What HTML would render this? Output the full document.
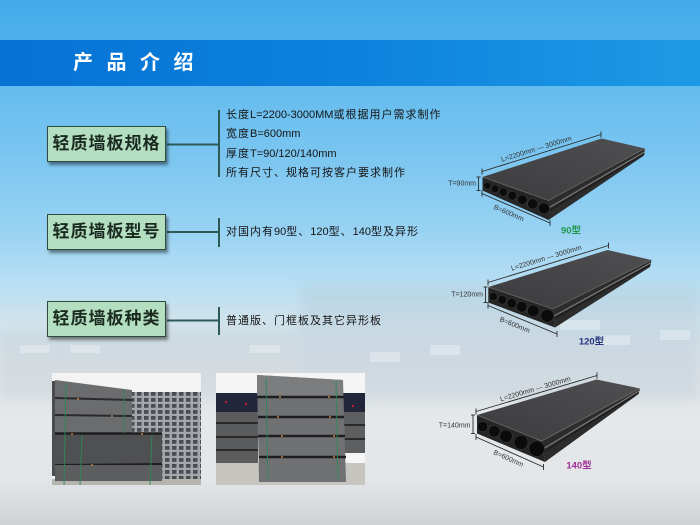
<!DOCTYPE html>
<html><head><meta charset="utf-8">
<style>
html,body{margin:0;padding:0;}
body{width:700px;height:525px;overflow:hidden;position:relative;font-family:"Liberation Sans","Noto Sans CJK SC",sans-serif;
background:linear-gradient(to bottom,#44abe9 0px,#4db1eb 40px,#64bcee 86px,#7cc6f0 160px,#98d2f3 230px,#b6def3 280px,#cfe3ec 320px,#dbe2e7 360px,#e5e8ea 420px,#e3e6e8 480px,#cfd3d6 525px);}
svg{position:absolute;left:0;top:0;}
.banner{position:absolute;left:0;top:40px;width:700px;height:46px;background:linear-gradient(to right,#0672d4,#0d82dd 50%,#1d9ae5);}
.title{position:absolute;left:73px;top:49px;color:#fff;font-size:20px;font-weight:bold;letter-spacing:13.5px;line-height:28px;font-family:"Liberation Sans","Noto Sans CJK SC",sans-serif;white-space:nowrap}
.box{position:absolute;left:47px;width:117px;height:34px;background:#b3dfc0;border:1.5px solid #2f4b3d;box-shadow:2px 3px 3px rgba(0,0,0,0.45);font-size:17px;font-weight:bold;color:#1b2a21;text-align:center;line-height:34px;letter-spacing:1px;white-space:nowrap}
.t{position:absolute;left:226px;font-size:11px;color:#151515;letter-spacing:1px;line-height:14px;white-space:nowrap}
.t span{letter-spacing:0}
</style></head>
<body>
<svg width="700" height="525" viewBox="0 0 700 525">
<defs>
<linearGradient id="topg" x1="0" y1="1" x2="1" y2="0">
<stop offset="0" stop-color="#3c3c3e"/><stop offset="1" stop-color="#4f4f52"/>
</linearGradient>
<pattern id="lat" width="7" height="6" patternUnits="userSpaceOnUse">
<rect width="7" height="6" fill="#a3a7ab"/><rect x="1" y="1" width="4.5" height="3.8" fill="#4a4e52"/>
</pattern>
<clipPath id="c1"><rect x="0" y="0" width="149" height="112"/></clipPath>
<filter id="bl" x="-10%" y="-30%" width="120%" height="160%"><feGaussianBlur stdDeviation="6"/></filter>
</defs>

<!-- faint background buildings -->
<g filter="url(#bl)">
<rect x="300" y="285" width="400" height="115" fill="#a9bccb" opacity="0.25"/>
<rect x="0" y="330" width="300" height="70" fill="#b7c3cb" opacity="0.25"/>
</g>
<g fill="#ffffff" opacity="0.3">
<rect x="20" y="345" width="30" height="8"/><rect x="70" y="345" width="30" height="8"/><rect x="250" y="345" width="30" height="8"/>
<rect x="370" y="352" width="30" height="10"/><rect x="430" y="345" width="30" height="10"/><rect x="560" y="320" width="40" height="10"/>
<rect x="600" y="335" width="30" height="10"/><rect x="660" y="330" width="30" height="10"/>
</g>

<!-- connectors -->
<g stroke="#2d5a55" stroke-width="2" fill="none">
<line x1="167" y1="144.5" x2="219" y2="144.5"/><line x1="219" y1="110" x2="219" y2="177"/>
<line x1="167" y1="232" x2="219" y2="232"/><line x1="219" y1="218" x2="219" y2="247"/>
<line x1="167" y1="320.5" x2="219" y2="320.5"/><line x1="219" y1="307" x2="219" y2="335"/>
</g>

<!-- slab 90 -->
<g>
<polygon points="482.5,177 601.5,138.5 645,148.5 548.5,200.5" fill="url(#topg)"/>
<polygon points="548.5,200.5 645,148.5 644,155.5 548.5,220" fill="#2c2c2c"/>
<line x1="548.5" y1="208" x2="644.5" y2="152" stroke="#7a7a7a" stroke-width="1.2"/>
<line x1="548.5" y1="211" x2="644.5" y2="153.5" stroke="#151515" stroke-width="0.8"/>
<polygon points="482.5,177 548.5,200.5 548.5,220 482.5,190.5" fill="#252525"/>
<polyline points="482.5,177 548.5,200.5 645,148.5" fill="none" stroke="#6a6a6a" stroke-width="0.8"/>
<g fill="#0b0b0b" stroke="#3a3a3a" stroke-width="0.6">
<circle cx="487.3" cy="185.7" r="3.6"/><circle cx="495" cy="188.8" r="3.87"/><circle cx="503.3" cy="192.1" r="4.16"/>
<circle cx="512.3" cy="195.7" r="4.48"/><circle cx="522.3" cy="199.7" r="4.83"/><circle cx="532.7" cy="203.9" r="5.2"/><circle cx="544" cy="208.4" r="5.6"/>
</g>
<g stroke="#2a2a2a" stroke-width="0.9" fill="none">
<line x1="482" y1="171.5" x2="601" y2="134.5"/><line x1="482" y1="168.5" x2="482" y2="174.5"/><line x1="601" y1="131.5" x2="601" y2="137.5"/>
<line x1="478.5" y1="177" x2="478.5" y2="190.5"/><line x1="476.5" y1="177" x2="480.5" y2="177"/><line x1="476.5" y1="190.5" x2="480.5" y2="190.5"/>
<line x1="482" y1="193.5" x2="550" y2="223"/><line x1="482" y1="190.5" x2="482" y2="196.5"/><line x1="550" y1="220" x2="550" y2="226"/>
</g>
<g font-family="Liberation Sans, sans-serif" font-size="7" fill="#333">
<text x="537" y="151" text-anchor="middle" transform="rotate(-17.3 537 151)">L=2200mm — 3000mm</text>
<text x="476" y="185.5" text-anchor="end">T=90mm</text>
<text x="508" y="215" text-anchor="middle" transform="rotate(23.5 508 215)">B=600mm</text>
</g>
<text x="571" y="233.5" text-anchor="middle" font-size="9.5" font-weight="bold" fill="#1e9a50" font-family="Liberation Sans, Noto Sans CJK SC, sans-serif">90型</text>
</g>

<!-- slab 120 -->
<g>
<polygon points="488.3,287 607.5,250 651.5,260 553,309" fill="url(#topg)"/>
<polygon points="553,309 651.5,260 650,267 555,327.5" fill="#2c2c2c"/>
<line x1="554" y1="316" x2="650.5" y2="263" stroke="#7a7a7a" stroke-width="1.2"/>
<line x1="554" y1="319" x2="650.5" y2="264.5" stroke="#151515" stroke-width="0.8"/>
<polygon points="488.3,287 553,309 555,327.5 488.3,302.5" fill="#252525"/>
<polyline points="488.3,287 553,309 651.5,260" fill="none" stroke="#6a6a6a" stroke-width="0.8"/>
<g fill="#0b0b0b" stroke="#3a3a3a" stroke-width="0.6">
<circle cx="493.3" cy="296.5" r="4.0"/><circle cx="502.3" cy="299.75" r="4.45"/><circle cx="511.7" cy="303.1" r="4.9"/>
<circle cx="521.7" cy="306.7" r="5.35"/><circle cx="533.3" cy="310.8" r="5.9"/><circle cx="547.3" cy="315.8" r="6.5"/>
</g>
<g stroke="#2a2a2a" stroke-width="0.9" fill="none">
<line x1="488" y1="282.5" x2="608.5" y2="245.5"/><line x1="488" y1="279.5" x2="488" y2="285.5"/><line x1="608.5" y1="242.5" x2="608.5" y2="248.5"/>
<line x1="485.5" y1="287" x2="485.5" y2="302.5"/><line x1="483.5" y1="287" x2="487.5" y2="287"/><line x1="483.5" y1="302.5" x2="487.5" y2="302.5"/>
<line x1="488" y1="305.5" x2="557" y2="334"/><line x1="488" y1="302.5" x2="488" y2="308.5"/><line x1="557" y1="331" x2="557" y2="337"/>
</g>
<g font-family="Liberation Sans, sans-serif" font-size="7" fill="#333">
<text x="547" y="260" text-anchor="middle" transform="rotate(-17 547 260)">L=2200mm — 3000mm</text>
<text x="483" y="296.5" text-anchor="end">T=120mm</text>
<text x="514" y="327" text-anchor="middle" transform="rotate(22 514 327)">B=600mm</text>
</g>
<text x="591.5" y="344.5" text-anchor="middle" font-size="9.5" font-weight="bold" fill="#27357f" font-family="Liberation Sans, Noto Sans CJK SC, sans-serif">120型</text>
</g>

<!-- slab 140 -->
<g>
<polygon points="477,415 596.5,379.5 640,388.5 541.5,441" fill="url(#topg)"/>
<polygon points="541.5,441 640,388.5 638.5,394 545,462" fill="#2c2c2c"/>
<line x1="543" y1="449" x2="639" y2="391" stroke="#7a7a7a" stroke-width="1.2"/>
<line x1="543.5" y1="452" x2="639" y2="392.5" stroke="#151515" stroke-width="0.8"/>
<polygon points="477,415 541.5,441 545,462 477,433.5" fill="#252525"/>
<polyline points="477,415 541.5,441 640,388.5" fill="none" stroke="#6a6a6a" stroke-width="0.8"/>
<g fill="#0b0b0b" stroke="#3a3a3a" stroke-width="0.6">
<circle cx="482.7" cy="426.6" r="5.2"/><circle cx="494.3" cy="431.3" r="5.76"/><circle cx="506" cy="436.1" r="6.33"/>
<circle cx="521" cy="442.3" r="7.05"/><circle cx="536.7" cy="448.7" r="7.8"/>
</g>
<g stroke="#2a2a2a" stroke-width="0.9" fill="none">
<line x1="476" y1="411.5" x2="597" y2="375.5"/><line x1="476" y1="408.5" x2="476" y2="414.5"/><line x1="597" y1="372.5" x2="597" y2="378.5"/>
<line x1="473" y1="415" x2="473" y2="433.5"/><line x1="471" y1="415" x2="475" y2="415"/><line x1="471" y1="433.5" x2="475" y2="433.5"/>
<line x1="476" y1="437" x2="543.5" y2="467"/><line x1="476" y1="434" x2="476" y2="440"/><line x1="543.5" y1="464" x2="543.5" y2="470"/>
</g>
<g font-family="Liberation Sans, sans-serif" font-size="7" fill="#333">
<text x="536" y="391" text-anchor="middle" transform="rotate(-16.6 536 391)">L=2200mm — 3000mm</text>
<text x="470.5" y="427.5" text-anchor="end">T=140mm</text>
<text x="507.5" y="460.5" text-anchor="middle" transform="rotate(24 507.5 460.5)">B=600mm</text>
</g>
<text x="579" y="468.5" text-anchor="middle" font-size="9.5" font-weight="bold" fill="#a0309a" font-family="Liberation Sans, Noto Sans CJK SC, sans-serif">140型</text>
</g>

<!-- photo 1 -->
<g transform="translate(52,373)" clip-path="url(#c1)">
<rect width="149" height="112" fill="#f3f3f3"/>
<rect x="0" y="8" width="6" height="95" fill="#4a4c50"/>
<rect x="80" y="19" width="69" height="58" fill="url(#lat)"/>
<rect x="110" y="75" width="39" height="37" fill="url(#lat)"/>
<polygon points="3,7 80,17 80,62 3,62" fill="#6a6c6e"/>
<line x1="3" y1="25" x2="80" y2="27" stroke="#2a2a2c" stroke-width="2"/>
<line x1="3" y1="42" x2="80" y2="43" stroke="#2a2a2c" stroke-width="2"/>
<rect x="3" y="60" width="107" height="52" fill="#58595b"/>
<rect x="3" y="60" width="107" height="31" fill="#4f5052"/>
<line x1="3" y1="60.5" x2="110" y2="60.5" stroke="#1e1e20" stroke-width="2.5"/>
<line x1="3" y1="92" x2="110" y2="91" stroke="#1e1e20" stroke-width="2"/>
<rect x="0" y="106" width="149" height="6" fill="#b5b4ae"/>
<rect x="3" y="92" width="107" height="16" fill="#5c5d5f"/>
<g stroke="#2a8a5a" stroke-width="0.9">
<line x1="14" y1="10" x2="12" y2="112"/><line x1="72" y1="16" x2="72" y2="60"/><line x1="100" y1="62" x2="98" y2="112"/><line x1="30" y1="62" x2="28" y2="112"/>
</g>
<g fill="#c08040"><circle cx="26" cy="26" r="1"/><circle cx="60" cy="43" r="1"/><circle cx="20" cy="61" r="1"/><circle cx="90" cy="61" r="1"/><circle cx="40" cy="92" r="1"/></g>
</g>

<!-- photo 2 -->
<g transform="translate(216,373)" clip-path="url(#c1)">
<rect width="149" height="112" fill="#f5f5f5"/>
<rect x="0" y="20" width="149" height="20" fill="#22263a"/>
<g fill="#d02030"><circle cx="10" cy="29" r="1.1"/><circle cx="30" cy="31" r="1.1"/><circle cx="137" cy="33" r="1.1"/></g>
<rect x="0" y="39" width="42" height="53" fill="#5a5c5e"/>
<g stroke="#2a2a2a" stroke-width="2"><line x1="0" y1="50" x2="42" y2="50"/><line x1="0" y1="64" x2="42" y2="64"/><line x1="0" y1="77" x2="42" y2="77"/></g>
<rect x="127" y="39" width="22" height="41" fill="#5c5e60"/>
<g stroke="#2a2a2a" stroke-width="2"><line x1="127" y1="52" x2="149" y2="52"/><line x1="127" y1="66" x2="149" y2="66"/></g>
<rect x="0" y="90" width="149" height="22" fill="#c6c5c0"/>
<polygon points="41,2 127,7 130,109 43,109" fill="#6f7173"/>
<polygon points="41,2 127,7 127,24 41,24" fill="#7b7d7f"/>
<g stroke="#1e1e20" stroke-width="2.5"><line x1="41" y1="24" x2="128" y2="24"/><line x1="42" y1="44" x2="128" y2="44"/><line x1="42" y1="63" x2="129" y2="63"/><line x1="43" y1="84" x2="130" y2="84"/></g>
<g stroke="#2a8a5a" stroke-width="0.9"><line x1="50" y1="5" x2="52" y2="106"/><line x1="120" y1="8" x2="122" y2="106"/></g>
<g fill="#c08040"><circle cx="64" cy="24" r="1"/><circle cx="113" cy="24" r="1"/><circle cx="62" cy="44" r="1"/><circle cx="114" cy="44" r="1"/><circle cx="66" cy="63" r="1"/><circle cx="118" cy="63" r="1"/><circle cx="66" cy="84" r="1"/><circle cx="118" cy="84" r="1"/></g>
</g>
</svg>

<div class="banner"></div>
<div class="title">产品介绍</div>

<div class="box" style="top:126px">轻质墙板规格</div>
<div class="box" style="top:214px">轻质墙板型号</div>
<div class="box" style="top:301px">轻质墙板种类</div>

<div class="t" style="top:108px">长度<span>L=2200-3000MM</span>或根据用户需求制作</div>
<div class="t" style="top:127px">宽度<span>B=600mm</span></div>
<div class="t" style="top:147px">厚度<span>T=90/120/140mm</span></div>
<div class="t" style="top:166px">所有尺寸、规格可按客户要求制作</div>
<div class="t" style="top:225px">对国内有<span>90</span>型、<span>120</span>型、<span>140</span>型及异形</div>
<div class="t" style="top:314px">普通版、门框板及其它异形板</div>
</body></html>
